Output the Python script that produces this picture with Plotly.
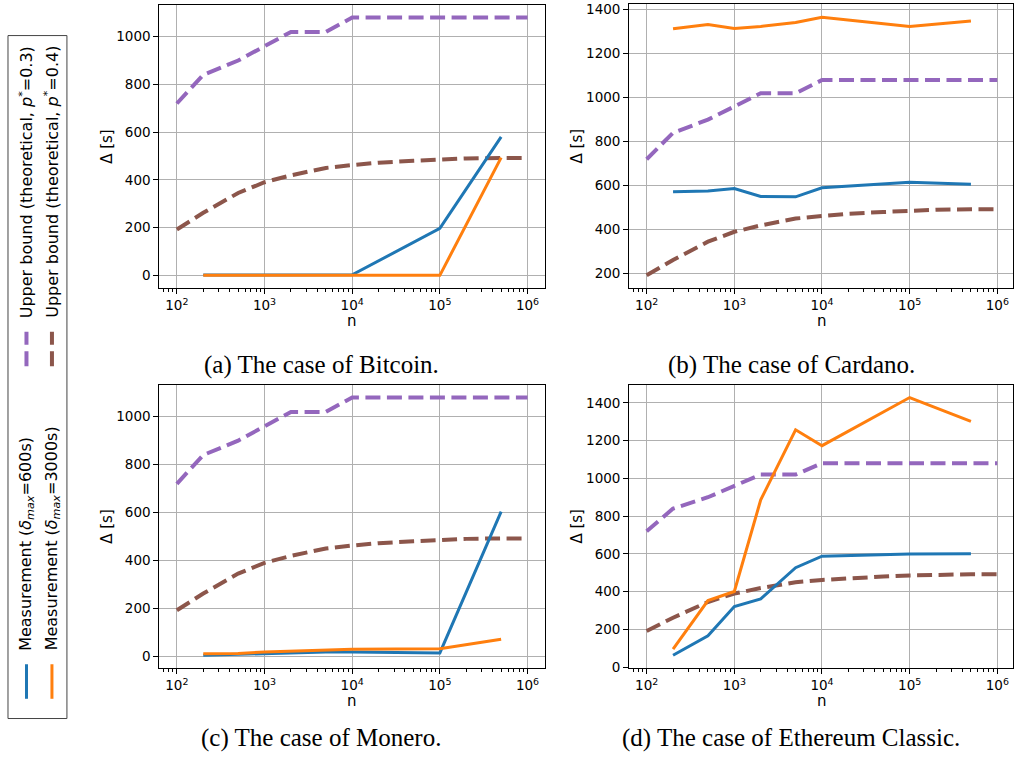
import plotly.graph_objects as go

# ---------------- data ----------------
n_theory = [100, 200, 500, 1000, 2000, 5000, 10000, 20000, 50000, 100000, 200000, 500000, 1000000]
ub_p03 = [720, 840, 900, 960, 1020, 1020, 1080, 1080, 1080, 1080, 1080, 1080, 1080]
ub_p04 = [192, 262, 345, 390, 419, 450, 462, 472, 480, 486, 490, 492, 492]

n_meas = [200, 500, 1000, 2000, 5000, 10000, 100000, 500000]

bitcoin_600 = [1, 1, 1, 1, 1, 2, 197, 580]
bitcoin_3000 = [0, 0, 0, 0, 0, 0, 0, 493]
cardano_600 = [572, 575, 587, 551, 549, 590, 615, 606]
cardano_3000 = [1313, 1333, 1315, 1324, 1342, 1366, 1324, 1349]
monero_600 = [4, 8, 14, 16, 18, 18, 14, 604]
monero_3000 = [11, 12, 18, 22, 28, 29, 31, 71]
etc_600 = [63, 166, 321, 362, 527, 588, 599, 601]
etc_3000 = [96, 353, 401, 886, 1257, 1173, 1428, 1302]

captions = ["(a) The case of Bitcoin.", "(b) The case of Cardano.",
            "(c) The case of Monero.", "(d) The case of Ethereum Classic."]
x_tick_vals = [1e2, 1e3, 1e4, 1e5, 1e6]
x_tick_text = ["10<sup>2</sup>", "10<sup>3</sup>", "10<sup>4</sup>", "10<sup>5</sup>", "10<sup>6</sup>"]
legend_labels = [
    "Measurement (<i>δ</i><sub><i>max</i></sub>=600s)",
    "Measurement (<i>δ</i><sub><i>max</i></sub>=3000s)",
    "Upper bound (theoretical, <i>p</i><sup>*</sup>=0.3)",
    "Upper bound (theoretical, <i>p</i><sup>*</sup>=0.4)",
]

BLUE, ORANGE, PURPLE, BROWN = "#1f77b4", "#ff7f0e", "#9467bd", "#8c564b"

# ---------------- layout helpers ----------------
W, H = 1014, 765
def fx(p): return p / W
def fy(p): return 1 - p / H

DEC = 87.75  # pixels per decade
panels = [
    dict(m600=bitcoin_600, m3000=bitcoin_3000, left=159.5, top=1.7, bottom=289, cap=(321.5, 367)),
    dict(m600=cardano_600, m3000=cardano_3000, left=629.75, top=1.3, bottom=289, cap=(792, 367)),
    dict(m600=monero_600, m3000=monero_3000, left=159.5, top=386.7, bottom=674, cap=(321.5, 745)),
    dict(m600=etc_600, m3000=etc_3000, left=629.75, top=386.7, bottom=674, cap=(792, 745)),
]

fig = go.Figure()
layout = dict(width=W, height=H, margin=dict(l=0, r=0, t=0, b=0),
              paper_bgcolor="white", plot_bgcolor="white", showlegend=False)
annotations = []
shapes = []

minor_vals = [k * 10 ** d for d in range(1, 7) for k in range(2, 10)]
tick_font = dict(family="DejaVu Sans", size=13.5, color="black")

for i, p in enumerate(panels):
    idx = "" if i == 0 else str(i + 1)
    xa, ya = "x" + idx, "y" + idx
    right = min(p["left"] + 4.4 * DEC, W)
    xr = [1.8, 1.8 + (right - p["left"]) / DEC]

    for yv, col in ((ub_p03, PURPLE), (ub_p04, BROWN)):
        fig.add_trace(go.Scatter(x=n_theory, y=yv, mode="lines", xaxis=xa, yaxis=ya,
                                 line=dict(color=col, width=4, dash="15px,6.5px")))
    fig.add_trace(go.Scatter(x=n_meas, y=p["m600"], mode="lines", xaxis=xa, yaxis=ya,
                             line=dict(color=BLUE, width=3)))
    fig.add_trace(go.Scatter(x=n_meas, y=p["m3000"], mode="lines", xaxis=xa, yaxis=ya,
                             line=dict(color=ORANGE, width=3)))

    allv = ub_p03 + ub_p04 + p["m600"] + p["m3000"]
    lo, hi = min(allv), max(allv)
    pad = 0.05 * (hi - lo)

    layout["xaxis" + idx] = dict(
        type="log", range=xr, domain=[fx(p["left"]), fx(right)], anchor=ya,
        tickmode="array", tickvals=x_tick_vals, ticktext=x_tick_text,
        ticks="outside", ticklen=5, tickwidth=1, tickcolor="black",
        showgrid=True, gridcolor="#b0b0b0", gridwidth=1,
        showline=True, linecolor="black", linewidth=1, mirror=True,
        zeroline=False, tickfont=tick_font, ticklabeloverflow="allow",
        minor=dict(tickmode="array", tickvals=minor_vals, ticks="outside",
                   ticklen=2.5, tickwidth=0.8, tickcolor="black", showgrid=False),
    )
    layout["yaxis" + idx] = dict(
        range=[lo - pad, hi + pad], domain=[fy(p["bottom"]), fy(p["top"])], anchor=xa,
        dtick=200, tick0=0, ticks="outside", ticklen=5, tickwidth=1, tickcolor="black",
        showgrid=True, gridcolor="#b0b0b0", gridwidth=1,
        showline=True, linecolor="black", linewidth=1, mirror=True,
        zeroline=False, tickfont=tick_font, ticklabeloverflow="allow",
    )

    # axis titles
    xc = (p["left"] + p["left"] + 4.4 * DEC) / 2
    annotations.append(dict(text="n", x=fx(xc), y=fy(p["bottom"] + 33), xref="paper", yref="paper",
                            showarrow=False, xanchor="center", yanchor="middle",
                            font=dict(family="DejaVu Sans", size=15, color="black")))
    annotations.append(dict(text="Δ [s]", x=fx(p["left"] - 52), y=fy((p["top"] + p["bottom"]) / 2),
                            xref="paper", yref="paper", showarrow=False, textangle=-90,
                            xanchor="center", yanchor="middle",
                            font=dict(family="DejaVu Sans", size=15, color="black")))
    # caption
    annotations.append(dict(text=captions[i], x=fx(p["cap"][0]), y=fy(p["cap"][1]),
                            xref="paper", yref="paper", showarrow=False,
                            xanchor="center", yanchor="middle",
                            font=dict(family="Liberation Serif", size=25, color="black")))

# ---------------- rotated legend ----------------
shapes.append(dict(type="rect", xref="paper", yref="paper",
                   x0=fx(8), x1=fx(67), y0=fy(725), y1=fy(33),
                   line=dict(color="#444444", width=1), fillcolor="white", layer="below"))
leg_items = [
    (26.5, 670, 705, 658, BLUE, "solid", 3),
    (52.0, 670, 705, 658, ORANGE, "solid", 3),
    (26.5, 333, 368, 321, PURPLE, "15px,6.5px", 4),
    (52.0, 333, 368, 321, BROWN, "15px,6.5px", 4),
]
for (x, ytop, ybot, ytext, col, dash, lw), lab in zip(leg_items, legend_labels):
    shapes.append(dict(type="line", xref="paper", yref="paper",
                       x0=fx(x), x1=fx(x), y0=fy(ybot), y1=fy(ytop),
                       line=dict(color=col, width=lw, dash=dash)))
    annotations.append(dict(text=lab, x=fx(x), y=fy(ytext), xref="paper", yref="paper",
                            showarrow=False, textangle=-90, xanchor="center", yanchor="bottom",
                            font=dict(family="DejaVu Sans", size=16, color="black")))

layout["annotations"] = annotations
layout["shapes"] = shapes
fig.update_layout(**layout)
fig.write_html("out.html", config={"displayModeBar": False},
               post_script="document.body.style.margin='0px';document.body.style.overflow='hidden';")
